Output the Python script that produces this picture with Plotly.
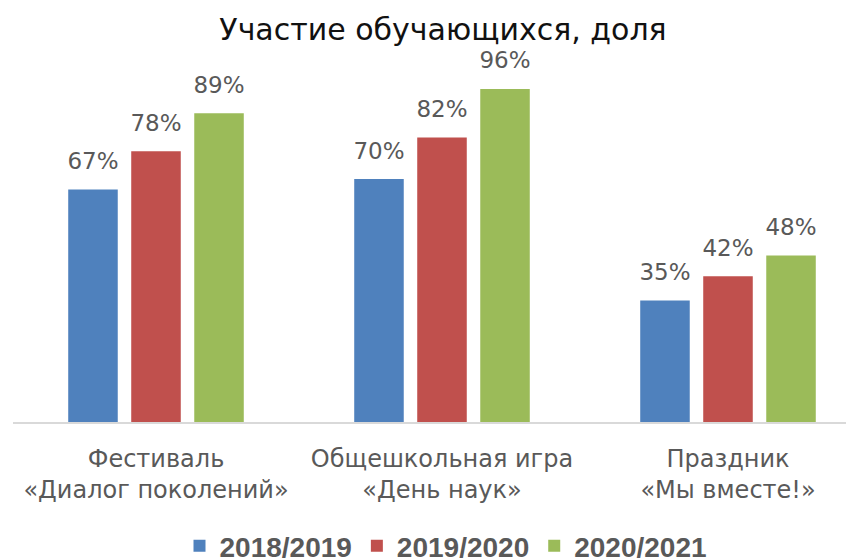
import plotly.graph_objects as go

categories = ["Фестиваль<br>«Диалог поколений»", "Общешкольная игра<br>«День наук»", "Праздник<br>«Мы вместе!»"]
series_names = ["2018/2019", "2019/2020", "2020/2021"]
values_2018 = [67, 70, 35]
values_2019 = [78, 82, 42]
values_2020 = [89, 96, 48]
colors = ["#4F81BD", "#C0504D", "#9BBB59"]

font_main = "'DejaVu Sans', sans-serif"
gray = "#595959"

fig = go.Figure()
for name, vals, col in zip(series_names, [values_2018, values_2019, values_2020], colors):
    fig.add_trace(go.Bar(
        name=name, x=categories, y=vals, offsetgroup=name,
        marker=dict(color=col, line=dict(width=0)),
    ))
for name, vals in zip(series_names, [values_2018, values_2019, values_2020]):
    fig.add_trace(go.Scatter(
        x=categories, y=vals, offsetgroup=name, mode="markers+text", showlegend=False,
        marker=dict(size=22, opacity=0), text=[f"{v}%" for v in vals],
        textposition="top center", cliponaxis=False, hoverinfo="skip",
        textfont=dict(family=font_main, size=23, color=gray),
    ))

W, H = 854, 559
off = 8  # page body margin offset
left, right, top, bottom = 13 - off, 0, 60 - off, 559 - (422 - off)
plot_w = W - left - right
plot_h = H - top - bottom
ymax = plot_h / 3.47
xmax = -0.5 + plot_w / 286

fig.update_layout(
    width=W, height=H,
    margin=dict(l=left, r=right, t=top, b=bottom, autoexpand=False),
    paper_bgcolor="white", plot_bgcolor="white",
    barmode="group", bargap=0.339, bargroupgap=0.214,
    scattermode="group", scattergap=0.339,
    title=dict(text="Участие обучающихся, доля", x=(443 - off) / W, xanchor="center", xref="container",
               y=1 - (29 - off) / H, yanchor="middle", yref="container",
               font=dict(family=font_main, size=30, color="#111111")),
    legend=dict(orientation="h", xref="container", yref="container", x=(446 - off) / W, xanchor="center",
                y=1 - (546 - off) / H, yanchor="middle",
                font=dict(family="'Liberation Sans', sans-serif", size=28, color=gray, weight="bold"),
                itemwidth=30, traceorder="normal"),
    xaxis=dict(range=[-0.5, xmax], showline=True, linecolor="#D9D9D9", linewidth=2,
               showgrid=False, ticks="", ticklabelstandoff=14,
               tickfont=dict(family=font_main, size=24, color=gray)),
    yaxis=dict(range=[0, ymax], visible=False, showgrid=False),
)

fig.write_html("out.html")
